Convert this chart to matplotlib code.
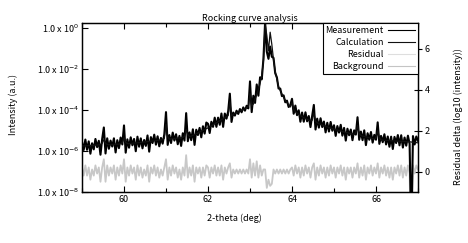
import numpy as np
import matplotlib
matplotlib.use("Agg")
import matplotlib.pyplot as plt
from matplotlib.ticker import NullLocator, MultipleLocator

plt.rcParams['font.family'] = ['Noto Sans CJK JP', 'DejaVu Sans']

# step scan 59.00 .. 67.00 deg, 0.04 deg step (201 points)
two_theta = np.linspace(59.0, 67.0, 201)

# log10 of calculated intensity (25 points = 1 deg)
calc_log = [
    -5.75, -5.75, -5.74, -5.74, -5.73, -5.73, -5.72, -5.72, -5.71, -5.71, -5.70, -5.68, -5.62,
    -5.45, -5.62, -5.68, -5.69, -5.69, -5.68, -5.68, -5.67, -5.67, -5.66, -5.64, -5.58,
    -5.35, -5.58, -5.63, -5.64, -5.63, -5.62, -5.61, -5.61, -5.60, -5.59, -5.58, -5.57, -5.56,
    -5.55, -5.54, -5.53, -5.52, -5.51, -5.50, -5.49, -5.48, -5.47, -5.46, -5.44, -5.38,
    -4.70, -5.30, -5.42, -5.41, -5.40, -5.39, -5.38, -5.37, -5.36, -5.35, -5.33, -5.29, -4.95,
    -5.22, -5.29, -5.27, -5.24, -5.20, -5.16, -5.12, -5.07, -5.03, -4.99, -4.95, -4.91,
    -4.87, -4.82, -4.77, -4.72, -4.67, -4.62, -4.57, -4.52, -4.47, -4.42, -4.37, -4.32, -4.27,
    -3.60, -4.28, -4.22, -4.17, -4.13, -4.09, -4.05, -4.01, -3.97, -3.93, -3.89, -3.82,
    -3.20, -3.80, -3.70, -3.45, -3.25, -3.00, -2.70, -2.30, -1.60, 0.20, -0.35, -1.10, -0.20,
    -0.80, -1.55, -2.10, -2.50, -2.85, -3.05, -3.22, -3.38, -3.52, -3.64, -3.75, -3.85,
    -3.65, -3.98, -4.08, -4.15, -4.21, -4.27, -4.32, -4.37, -4.41, -4.45, -4.49, -4.53, -4.50,
    -4.15, -4.55, -4.62, -4.66, -4.70, -4.73, -4.76, -4.79, -4.82, -4.85, -4.88, -4.91,
    -4.94, -4.96, -4.98, -5.00, -5.02, -5.05, -5.07, -5.09, -5.11, -5.13, -5.15, -5.17, -5.19,
    -5.10, -4.75, -5.15, -5.25, -5.27, -5.29, -5.31, -5.33, -5.35, -5.37, -5.39, -5.41,
    -5.35, -5.00, -5.35, -5.46, -5.47, -5.48, -5.48, -5.49, -5.49, -5.50, -5.50, -5.51, -5.51,
    -5.52, -5.52, -5.53, -5.53, -5.54, -5.54, -5.55, -5.55, -5.56, -5.57, -5.58, -5.59,
    -5.60,
]

# residual delta = log10(meas) - log10(calc), in tenths
resid_tenths = [
    2, -2, 3, -2, 2, -4, 1, -2, 3, -1, 2, -5, 2, 6, -5, 3, -2, 2, -1, 3, -4, 2, -2, 3, -1,
    6, -5, 2, -2, 3, -1, 2, -4, 3, -2, 2, -3, 1, -2, 3, -5, 2, -1, 3, -2, 2, -3, 1, -2, 2,
    6, -4, 2, -2, 3, -1, 2, -3, 1, -4, 2, -2, 8, -3, 2, -2, 3, -5, 2, -1, 2, -3, 2, -2, 3,
    2, -3, 2, -1, 3, -2, 2, -2, 3, -4, 2, -1, 2, 4, -3, 1, -1, 1, -1, 1, -1, 1, -1, 1, -1,
    6, -3, 4, -2, 5, -3, 3, -2, 1, 1, -8, -4, -7, -6, 1, -1, 1, -1, 1, -1, 1, -1, 1, -1, 1,
    2, -2, 3, -1, 2, -3, 2, -2, 3, -1, 2, -3, 2, 4, -4, 2, -2, 3, -1, 2, -3, 2, -2, 3, -1,
    2, -3, 2, -1, 3, -2, 2, -4, 2, -1, 2, -3, 2, -1, 4, -3, 2, -2, 3, -4, 2, -1, 3, -2, 2,
    -1, 4, -3, 2, -1, 3, -2, 2, -3, 2, -4, 2, -1, 3, -2, 3, -3, 2, -2, 3, -1, -45, 3, -1, 3,
    1,
]

# background level sits below the plotted range
bg_theta = [59.0, 67.0]
bg_log = [-8.5, -8.5]

calc = 10 ** np.array(calc_log)
resid = np.array(resid_tenths) / 10.0
meas = 10 ** (np.array(calc_log) + resid)
bg = 10 ** np.array(bg_log)

fig = plt.figure(figsize=(4.68, 2.43), dpi=100)
ax = fig.add_axes([82 / 468, 51 / 243, 336 / 468, 169 / 243])
ax2 = ax.twinx()
ax.set_zorder(ax2.get_zorder() + 1)
ax.patch.set_visible(False)

l_bg, = ax.plot(bg_theta, bg, color='#c4c4c4', lw=0.8, zorder=0)
l_meas, = ax.plot(two_theta, meas, color='black', lw=1.5, zorder=2)
l_calc, = ax.plot(two_theta, calc, color='#111111', lw=0.9, zorder=3)
l_res, = ax2.plot(two_theta, resid, color='#c8c8c8', lw=1.3)
l_res_leg = plt.Line2D([], [], color='#dedede', lw=0.8)

ax.set_yscale('log')
ax.set_xlim(59, 67)
ax.set_ylim(1e-8, 10 ** 0.25)
ax2.set_ylim(-1, 7.25)

ax.set_yticks([1e0, 1e-2, 1e-4, 1e-6, 1e-8],
              labels=['1.0 x 10$^{0}$', '1.0 x 10$^{-2}$', '1.0 x 10$^{-4}$',
                      '1.0 x 10$^{-6}$', '1.0 x 10$^{-8}$'])
ax.yaxis.set_minor_locator(NullLocator())
ax.set_xticks([60, 62, 64, 66])
ax.xaxis.set_minor_locator(MultipleLocator(1))
ax.tick_params(axis='both', which='major', direction='in', length=4.5, width=0.8,
               labelsize=6.5, top=True, pad=2)
ax.tick_params(axis='x', which='minor', direction='in', length=3, width=0.8, top=True)
ax.tick_params(axis='y', which='major', right=False)
ax2.set_yticks([0, 2, 4, 6])
ax2.tick_params(axis='y', direction='inout', length=6, width=0.8, labelsize=6.5, pad=2)

for a in (ax, ax2):
    for s in a.spines.values():
        s.set_linewidth(0.9)

ax.set_title("Rocking curve analysis", fontsize=6.5, pad=1.5)

leg = ax.legend([l_meas, l_calc, l_res_leg, l_bg],
                ['Measurement', 'Calculation', 'Residual', 'Background'],
                loc='upper right', borderaxespad=0, markerfirst=False, fontsize=6.5,
                fancybox=False, framealpha=1, edgecolor='black', handlelength=3.0,
                handletextpad=0.5, labelspacing=0.35, borderpad=0.3)
leg.get_frame().set_linewidth(0.8)
for h in leg.get_lines()[:2]:
    h.set_linewidth(0.8)

fig.text(234 / 468, 1 - 218 / 243, "2-theta (deg)", ha='center', va='center', fontsize=6.5)
fig.text(13 / 468, 1 - 104 / 243, "Intensity (a.u.)", ha='center', va='center',
         rotation=90, fontsize=6.5)
fig.text(458 / 468, 1 - 117 / 243, "Residual delta (log10 (intensity))", ha='center',
         va='center', rotation=90, fontsize=6.5)

fig.savefig("out.png", dpi=100)
